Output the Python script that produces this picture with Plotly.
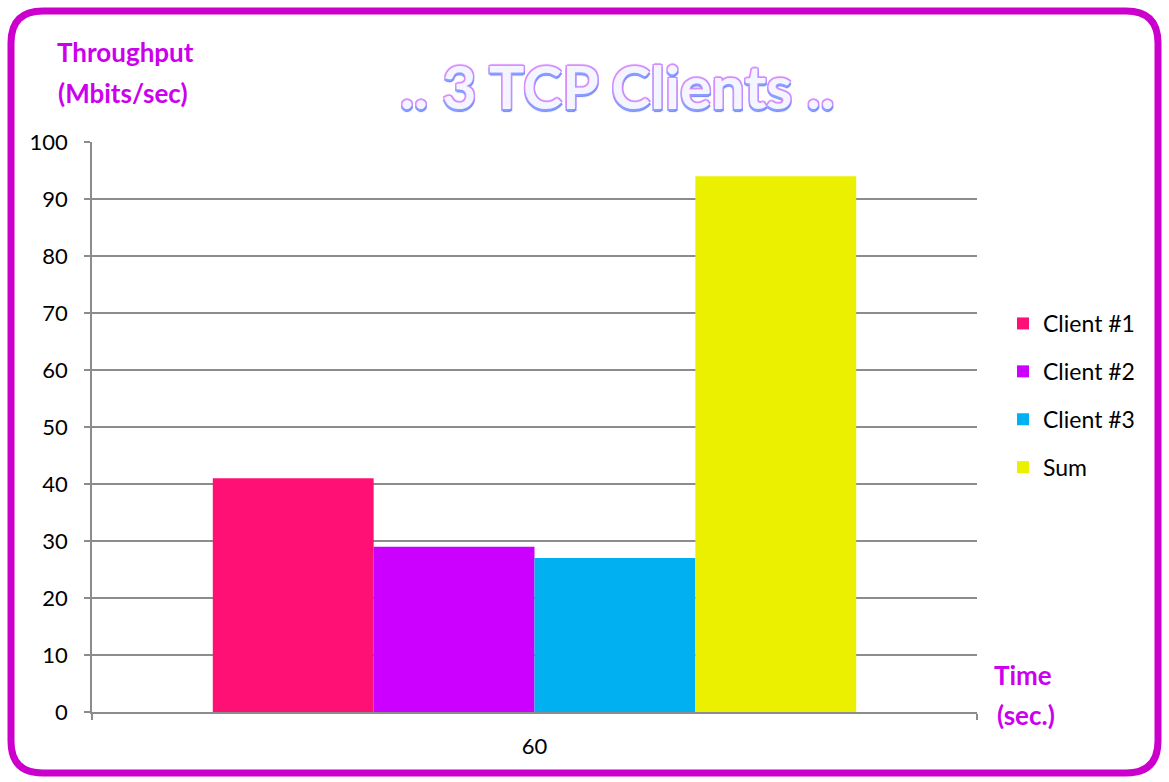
import plotly.graph_objects as go

# Throughput measured for three TCP clients at t = 60 s
time_labels = ["60"]
series_names = ["Client #1", "Client #2", "Client #3", "Sum"]
client1 = [41]
client2 = [29]
client3 = [27]
total = [94]
series_values = [client1, client2, client3, total]
series_colors = ["#ff1075", "#cc00ff", "#00b0f0", "#eaf000"]
y_ticks = [0, 10, 20, 30, 40, 50, 60, 70, 80, 90, 100]

W, H = 1169, 782
L, R, T, B = 92, 192, 142, 70
pw, ph = W - L - R, H - T - B

def px(x):
    return (x - L) / pw

def py(y):
    return (H - B - y) / ph

fig = go.Figure()
for i, (name, vals, col) in enumerate(zip(series_names, series_values, series_colors)):
    fig.add_trace(go.Bar(
        x=time_labels, y=vals, name=name, marker_color=col,
        marker_line_width=0, legendgroup=f"g{i}",
    ))

label_col = "#cc00ee"
font_main = "Lato, 'Open Sans', sans-serif"

# rounded frame around the whole figure
x0, x1, y0, y1, r = 11, 1158, 11, 773, 32
path = (f"M {px(x0 + r)},{py(y0)} L {px(x1 - r)},{py(y0)} "
        f"Q {px(x1)},{py(y0)} {px(x1)},{py(y0 + r)} "
        f"L {px(x1)},{py(y1 - r)} Q {px(x1)},{py(y1)} {px(x1 - r)},{py(y1)} "
        f"L {px(x0 + r)},{py(y1)} Q {px(x0)},{py(y1)} {px(x0)},{py(y1 - r)} "
        f"L {px(x0)},{py(y0 + r)} Q {px(x0)},{py(y0)} {px(x0 + r)},{py(y0)} Z")
fig.add_shape(type="path", path=path, xref="paper", yref="paper",
              line=dict(color="#cc00cc", width=7), layer="above")

annots = [
    dict(text="<b>Throughput</b>", x=px(125), y=py(52)),
    dict(text="<b>(Mbits/sec)</b>", x=px(123), y=py(93)),
    dict(text="<b>Time</b>", x=px(1023), y=py(675)),
    dict(text="<b>(sec.)</b>", x=px(1026), y=py(715)),
]
for a in annots:
    fig.add_annotation(xref="paper", yref="paper", showarrow=False,
                       xanchor="center", yanchor="middle",
                       font=dict(family=font_main, size=26, color=label_col), **a)

fig.add_annotation(
    text="<b>.. 3 TCP Clients ..</b>", xref="paper", yref="paper",
    x=px(617), y=py(87), xanchor="center", yanchor="middle", showarrow=False,
    font=dict(family=font_main, size=59, color="#f3f5ff",
              shadow="-1.5px -1.5px 0 #d88cff, 1.5px -1.5px 0 #c98cff, "
                     "-1.5px 1.5px 0 #8c9cff, 1.5px 1.5px 0 #7f90ff, "
                     "0 2.5px 1px #6f84ff, 0 -2px 1px #e0a0ff"),
)

fig.update_layout(
    width=W, height=H,
    margin=dict(l=L, r=R, t=T, b=B),
    paper_bgcolor="white", plot_bgcolor="white",
    barmode="group", bargap=0.273, bargroupgap=0,
    font=dict(family=font_main, size=22, color="black"),
    showlegend=True,
    legend=dict(x=px(1003), y=py(302), xanchor="left", yanchor="top",
                traceorder="grouped", tracegroupgap=15,
                font=dict(size=23, color="black"), itemwidth=30),
    xaxis=dict(type="category", range=[-0.5, 0.5], showgrid=False,
               showline=True, linecolor="#8c8c8c", linewidth=1.5,
               ticks="outside", tickson="boundaries", ticklen=6,
               tickcolor="#8c8c8c", tickwidth=1.5, ticklabelstandoff=14,
               tickfont=dict(size=22, color="black")),
    yaxis=dict(range=[0, 100], tickvals=y_ticks, showgrid=True,
               gridcolor="#8c8c8c", gridwidth=1.5,
               showline=True, linecolor="#8c8c8c", linewidth=1.5,
               ticks="outside", ticklen=6, tickcolor="#8c8c8c", tickwidth=1.5,
               ticklabelstandoff=12,
               tickfont=dict(size=22, color="black"), zeroline=False),
)

fig.write_html("out.html")
